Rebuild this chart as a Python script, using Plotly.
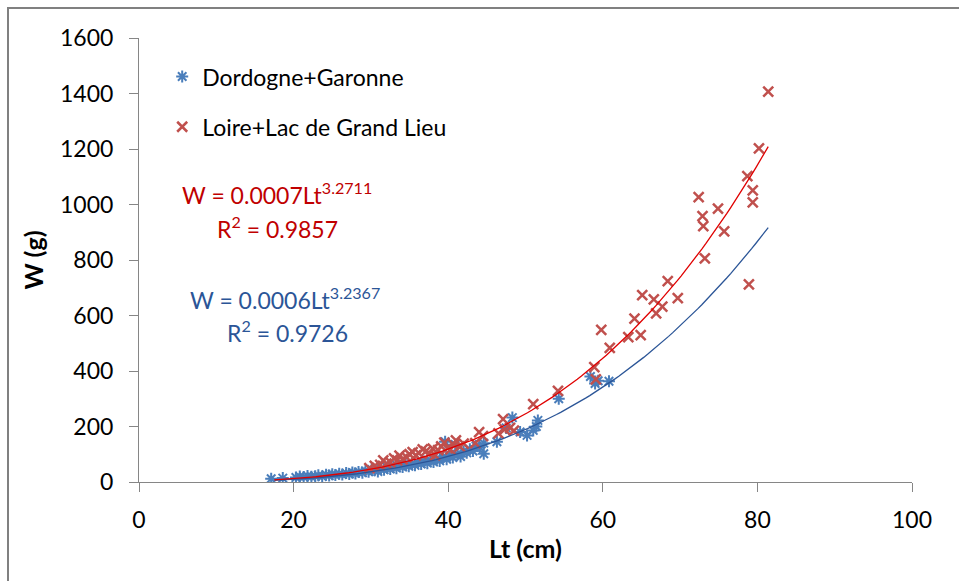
import plotly.graph_objects as go

# ---- data ----
blue_lt = [17.1, 18.6, 20.3, 20.8, 21.3, 21.8, 22.3, 22.8, 23.2, 23.7, 24.2, 24.6, 25.0, 25.4, 25.9,
           26.3, 26.8, 27.2, 27.6, 28.0, 28.4, 28.9, 29.3, 29.7, 30.1, 30.5, 30.9, 31.3, 31.7, 32.1,
           32.5, 32.9, 33.3, 33.7, 34.1, 34.5, 34.9, 35.3, 35.7, 36.1, 36.5, 36.9, 37.3, 37.7, 38.1,
           38.5, 38.9, 39.3, 39.6, 39.8, 40.2, 40.6, 40.9, 41.2, 41.6, 42.0, 42.4, 42.8, 43.2, 43.6,
           44.1, 44.6, 44.6, 46.3, 47.5, 48.3, 49.3, 50.2, 51.0, 51.4, 51.6, 54.3, 58.4, 59.0, 59.4, 60.8]
blue_w = [12, 14, 16, 20, 18, 22, 19, 21, 24, 20, 26, 23, 28, 25, 30,
          27, 32, 29, 34, 31, 36, 33, 40, 37, 45, 42, 38, 48, 44, 52,
          47, 55, 50, 58, 54, 62, 57, 66, 60, 70, 65, 74, 68, 78, 72,
          84, 76, 90, 145, 82, 95, 88, 135, 100, 92, 110, 105, 118, 112, 130,
          125, 102, 140, 145, 195, 232, 180, 168, 186, 200, 222, 300, 380, 355, 365, 363]

red_lt = [29.8, 30.5, 31.2, 31.6, 32.0, 32.5, 33.0, 33.4, 33.7, 34.1, 34.6, 35.0, 35.4, 35.8, 36.2,
          36.7, 37.1, 37.6, 38.0, 38.3, 38.7, 39.1, 39.5, 39.9, 40.3, 40.7, 41.0, 41.5, 42.0, 43.5,
          44.0, 44.5, 46.5, 47.1, 47.3, 48.0, 48.5, 51.0, 54.2, 58.9, 59.1, 59.8, 60.9, 63.3, 64.1,
          64.9, 65.1, 66.6, 66.9, 67.7, 68.4, 69.7, 72.4, 72.9, 73.0, 73.2, 74.9, 75.7, 78.7, 78.9,
          79.4, 79.4, 80.2, 81.4]
red_w = [50, 58, 62, 78, 66, 72, 85, 78, 95, 82, 90, 100, 108, 96, 104,
         118, 110, 102, 120, 96, 115, 128, 142, 122, 118, 135, 150, 128, 138, 140,
         180, 165, 175, 227, 190, 195, 185, 281, 328, 414, 370, 548, 483, 522, 589,
         529, 673, 658, 608, 632, 724, 663, 1027, 958, 922, 806, 985, 903, 1102, 712,
         1051, 1008, 1202, 1407]

# power trendlines W = a * Lt^b (Excel fits, coefficients as drawn)
blue_fit = (0.0006, 3.2367)
red_fit = (0.00068, 3.2711)
fit_range = (17.5, 81.4)

x_ticks = [0, 20, 40, 60, 80, 100]
y_ticks = [0, 200, 400, 600, 800, 1000, 1200, 1400, 1600]

BLUE = "#4A7EBB"
RED = "#C0504D"
BLUE_LINE = "#2B5597"
RED_LINE = "#E00000"
FONT = "Lato"

n = 120
fx = [fit_range[0] + (fit_range[1] - fit_range[0]) * i / (n - 1) for i in range(n)]
blue_fx_w = [blue_fit[0] * v ** blue_fit[1] for v in fx]
red_fx_w = [red_fit[0] * v ** red_fit[1] for v in fx]

fig = go.Figure()
fig.add_trace(go.Scatter(x=blue_lt, y=blue_w, mode="markers", name="Dordogne+Garonne",
                         legend="legend",
                         marker=dict(symbol="asterisk-open", size=10, line=dict(color=BLUE, width=2), color=BLUE)))
fig.add_trace(go.Scatter(x=red_lt, y=red_w, mode="markers", name="Loire+Lac de Grand Lieu",
                         legend="legend2",
                         marker=dict(symbol="x-thin-open", size=10, line=dict(color=RED, width=2.5), color=RED)))
fig.add_trace(go.Scatter(x=fx, y=blue_fx_w, mode="lines", showlegend=False,
                         line=dict(color=BLUE_LINE, width=1.3)))
fig.add_trace(go.Scatter(x=fx, y=red_fx_w, mode="lines", showlegend=False,
                         line=dict(color=RED_LINE, width=1.3)))

axis_common = dict(showline=True, linecolor="#868686", linewidth=1, ticks="outside", ticklen=9,
                   tickcolor="#868686", showgrid=False, zeroline=False, automargin=False,
                   tickfont=dict(family=FONT, size=23, color="#000000"))

fig.update_layout(
    width=959, height=581,
    margin=dict(l=139, r=47, t=38, b=99),
    paper_bgcolor="white", plot_bgcolor="white",
    xaxis=dict(range=[0, 100], tickvals=x_ticks, ticklabelstandoff=8,
               title=dict(text="<b>Lt (cm)</b>", font=dict(family=FONT, size=25, color="#000"), standoff=8),
               **axis_common),
    yaxis=dict(range=[0, 1600], tickvals=y_ticks, ticklabelstandoff=11,
               title=dict(text="<b>W (g)</b>", font=dict(family=FONT, size=25, color="#000"), standoff=9),
               **axis_common),
    legend=dict(x=0.03, y=0.913, xanchor="left", yanchor="middle", bgcolor="rgba(0,0,0,0)",
                font=dict(family=FONT, size=23, color="#000")),
    legend2=dict(x=0.03, y=0.80, xanchor="left", yanchor="middle", bgcolor="rgba(0,0,0,0)",
                 font=dict(family=FONT, size=23, color="#000")),
    showlegend=True,
)

ann_font = dict(family=FONT, size=23)
fig.add_annotation(text="W = 0.0007Lt<sup>3.2711</sup>", x=(277 - 139) / 773, y=(482 - 194) / 444,
                   xref="paper", yref="paper", xanchor="center", yanchor="middle",
                   showarrow=False, font=dict(color="#C00000", **ann_font))
fig.add_annotation(text="R<sup>2</sup> = 0.9857", x=(277 - 139) / 773, y=(482 - 228) / 444,
                   xref="paper", yref="paper", xanchor="center", yanchor="middle",
                   showarrow=False, font=dict(color="#C00000", **ann_font))
fig.add_annotation(text="W = 0.0006Lt<sup>3.2367</sup>", x=(285 - 139) / 773, y=(482 - 298) / 444,
                   xref="paper", yref="paper", xanchor="center", yanchor="middle",
                   showarrow=False, font=dict(color="#2B5597", **ann_font))
fig.add_annotation(text="R<sup>2</sup> = 0.9726", x=(287 - 139) / 773, y=(482 - 331) / 444,
                   xref="paper", yref="paper", xanchor="center", yanchor="middle",
                   showarrow=False, font=dict(color="#2B5597", **ann_font))

# outer chart border (left and top edges visible)
fig.add_shape(type="rect", xref="paper", yref="paper",
              x0=(8 - 139) / 773, x1=(975 - 139) / 773, y0=(482 - 600) / 444, y1=(482 - 8) / 444,
              line=dict(color="#808080", width=2), fillcolor="rgba(0,0,0,0)", layer="below")

fig.write_html("out.html", config={"displayModeBar": False},
               post_script="document.body.style.margin='0';")
